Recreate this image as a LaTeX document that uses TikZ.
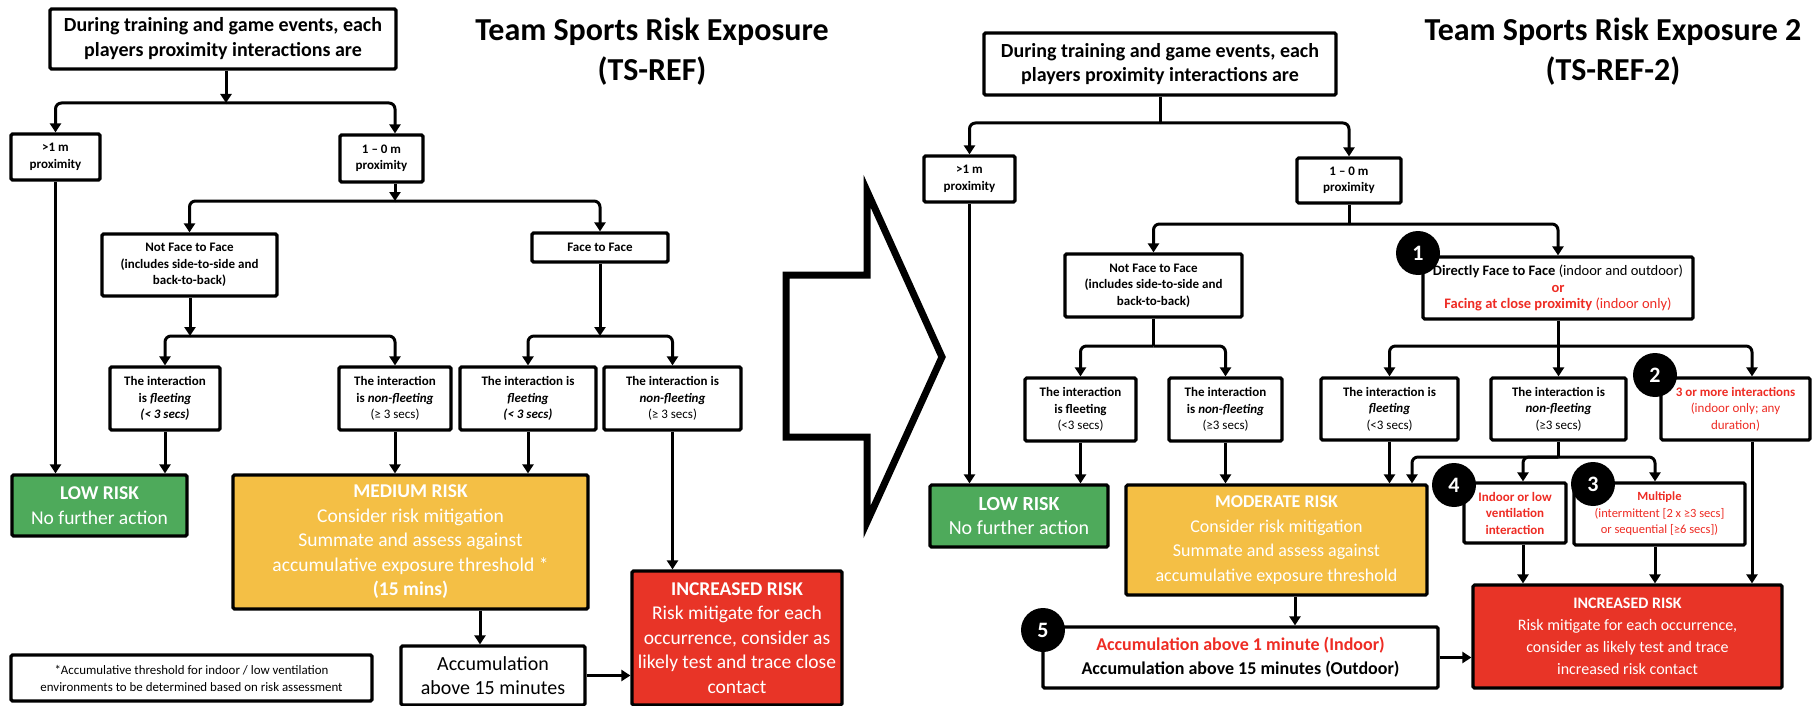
\documentclass[tikz,border=0pt]{standalone}
\usepackage{fontspec}
\setmainfont{Carlito}
\usetikzlibrary{arrows.meta,positioning}

\definecolor{lowgreen}{HTML}{4EAA5B}
\definecolor{medorange}{HTML}{F4BF45}
\definecolor{incred}{HTML}{E83427}
\definecolor{txtred}{HTML}{EE2C24}

\tikzset{
  box/.style={draw, line width=3.2pt, rounded corners=1.5pt, fill=white, align=center,
    inner sep=0pt, font=\bfseries\fontsize{13}{16.5}\selectfont},
  sz/.style 2 args={minimum width=#1pt, minimum height=#2pt},
  riskbox/.style={box, text=white, font=\fontsize{19.5}{24.5}\selectfont},
  arr/.style={line width=3pt, -{Triangle[length=9pt,width=11pt]}},
  lin/.style={line width=3pt},
  rc/.style={rounded corners=6pt},
  num/.style={circle, fill=black, text=white, minimum size=44pt, inner sep=0pt,
    font=\bfseries\fontsize{22}{22}\selectfont},
  title/.style={align=center, font=\bfseries\fontsize{32}{40}\selectfont}
}

\begin{document}
\begin{tikzpicture}[x=1pt,y=-1pt]
\useasboundingbox (0,0) rectangle (1813,706);

% TS-REF
\node[title] (titleL) at (652,52) {Team Sports Risk Exposure\\(TS-REF)};
\node[box,sz={346}{60},font=\bfseries\fontsize{20}{25}\selectfont] (topL) at (223,39)
  {During training and game events, each\\players proximity interactions are};
\node[box,sz={89}{46}] (farL) at (55.5,157) {>1 m\\proximity};
\node[box,sz={83}{47}] (nearL) at (381.5,158.5) {1 -- 0 m\\proximity};
\node[box,sz={175}{62}] (nffL) at (189.5,265) {Not Face to Face\\(includes side-to-side and\\back-to-back)};
\node[box,sz={136}{29}] (ftfL) at (600,247.5) {Face to Face};
\node[box,sz={110}{63}] (fleetA) at (165,398.5) {The interaction\\is \textit{fleeting}\\\textit{(< 3 secs)}};
\node[box,sz={112}{63}] (nonfleetA) at (395,398.5) {The interaction\\is \textit{non-fleeting}\\{\mdseries(≥ 3 secs)}};
\node[box,sz={136}{63}] (fleetB) at (528,398.5) {The interaction is\\\textit{fleeting}\\\textit{(< 3 secs)}};
\node[box,sz={137}{63}] (nonfleetB) at (672.5,398.5) {The interaction is\\\textit{non-fleeting}\\{\mdseries(≥ 3 secs)}};
\node[riskbox,sz={175}{61},fill=lowgreen] (lowL) at (99.5,505.5) {\textbf{LOW RISK}\\No further action};
\node[riskbox,sz={355}{134},fill=medorange] (medL) at (410.5,542)
  {\textbf{MEDIUM RISK}\\Consider risk mitigation\\Summate and assess against\\accumulative exposure threshold *\\\textbf{(15 mins)}};
\node[riskbox,sz={210}{134},fill=incred] (incL) at (737,638)
  {\textbf{INCREASED RISK}\\Risk mitigate for each\\occurrence, consider as\\likely test and trace close\\contact};
\node[box,sz={184}{59},font=\fontsize{20}{24.5}\selectfont] (accL) at (493,675.5) {Accumulation\\above 15 minutes};
\node[box,sz={361}{46},font=\fontsize{12.9}{17}\selectfont] (noteL) at (191.5,678)
  {*Accumulative threshold for indoor / low ventilation\\environments to be determined based on risk assessment};

\coordinate (jL1) at (226,103);
\coordinate (jL2) at (395,201);
\coordinate (jL3) at (190,336);
\coordinate (jL4) at (600,336);
\coordinate (colL) at (480,0);
\draw[arr] (topL.south -| jL1) -- (jL1);
\draw[arr,rc] (jL1) -| (farL.north);
\draw[arr,rc] (jL1) -| (nearL.north -| jL2);
\draw[arr] (nearL.south -| jL2) -- (jL2);
\draw[arr,rc] (jL2) -| (nffL.north);
\draw[arr,rc] (jL2) -| (ftfL.north);
\draw[arr] (nffL.south -| jL3) -- (jL3);
\draw[arr,rc] (jL3) -| (fleetA.north);
\draw[arr,rc] (jL3) -| (nonfleetA.north);
\draw[arr] (ftfL.south) -- (jL4);
\draw[arr,rc] (jL4) -| (fleetB.north);
\draw[arr,rc] (jL4) -| (nonfleetB.north);
\draw[arr] (farL.south) -- (farL.south |- lowL.north);
\draw[arr] (fleetA.south) -- (fleetA.south |- lowL.north);
\draw[arr] (nonfleetA.south) -- (nonfleetA.south |- medL.north);
\draw[arr] (fleetB.south) -- (fleetB.south |- medL.north);
\draw[arr] (nonfleetB.south) -- (nonfleetB.south |- incL.north);
\draw[arr] (medL.south -| colL) -- (accL.north -| colL);
\draw[arr] (accL.east) -- (accL.east -| incL.west);

% big arrow
\draw[line width=7pt, line join=miter] (786,275) -- (867,275) -- (867,191) -- (942,357)
  -- (867,522) -- (867,437) -- (786,437) -- cycle;

% TS-REF-2
\node[title] (titleR) at (1613,52) {Team Sports Risk Exposure 2\\(TS-REF-2)};
\node[box,sz={352}{62},font=\bfseries\fontsize{20}{24}\selectfont] (topR) at (1160,64)
  {During training and game events, each\\players proximity interactions are};
\node[box,sz={91}{46}] (farR) at (969.5,179) {>1 m\\proximity};
\node[box,sz={104}{45}] (nearR) at (1349,180.5) {1 -- 0 m\\proximity};
\node[box,sz={177}{63}] (nffR) at (1153.5,285.5) {Not Face to Face\\(includes side-to-side and\\back-to-back)};
\node[box,sz={270}{62},font=\bfseries\fontsize{14.5}{16.5}\selectfont] (dftf) at (1558,288)
  {Directly Face to Face {\mdseries(indoor and outdoor)}\\\textcolor{txtred}{or}\\\textcolor{txtred}{Facing at close proximity {\mdseries(indoor only)}}};
\node[box,sz={111}{63}] (fleetC) at (1080.5,409.5) {The interaction\\is fleeting\\{\mdseries(<3 secs)}};
\node[box,sz={113}{63}] (nonfleetC) at (1225.5,409.5) {The interaction\\is \textit{non-fleeting}\\{\mdseries(≥3 secs)}};
\node[box,sz={137}{62}] (fleetD) at (1389.5,409) {The interaction is\\\textit{fleeting}\\{\mdseries(<3 secs)}};
\node[box,sz={135}{62}] (nonfleetD) at (1558.5,409) {The interaction is\\\textit{non-fleeting}\\{\mdseries(≥3 secs)}};
\node[box,sz={149}{62},text=txtred] (threeplus) at (1735.5,409)
  {3 or more interactions\\{\mdseries(indoor only; any}\\{\mdseries duration)}};
\node[riskbox,sz={178}{62},fill=lowgreen,font=\fontsize{20}{24.5}\selectfont] (lowR) at (1019,516) {\textbf{LOW RISK}\\No further action};
\node[riskbox,sz={301}{110},fill=medorange,font=\fontsize{18}{24.5}\selectfont] (modR) at (1276.5,540)
  {\textbf{MODERATE RISK}\\Consider risk mitigation\\Summate and assess against\\accumulative exposure threshold};
\node[box,sz={102}{60},text=txtred] (indoor) at (1515,513) {Indoor or low\\ventilation\\interaction};
\node[box,sz={171}{62},text=txtred,font=\bfseries\fontsize{12.5}{16.5}\selectfont] (multi) at (1659.5,514)
  {Multiple\\{\mdseries(intermittent [2 x ≥3 secs]}\\{\mdseries or sequential [≥6 secs])}};
\node[riskbox,sz={309}{103},fill=incred,font=\fontsize{16}{22}\selectfont] (incR) at (1627.5,636.5)
  {\textbf{INCREASED RISK}\\Risk mitigate for each occurrence,\\consider as likely test and trace\\increased risk contact};
\node[box,sz={395}{61},font=\bfseries\fontsize{18}{24}\selectfont] (accR) at (1240.5,657.5)
  {\textcolor{txtred}{Accumulation above 1 minute (Indoor)}\\Accumulation above 15 minutes (Outdoor)};

\coordinate (jR1) at (1160,123);
\coordinate (jR2) at (1349,224);
\coordinate (jR3) at (1153.5,346);
\coordinate (jR4) at (1558.5,346);
\coordinate (jR5) at (1558.5,457);
\coordinate (colA) at (1412,0);
\coordinate (colB) at (1523,0);
\coordinate (colC) at (1655,0);
\coordinate (colD) at (1752,0);
\coordinate (colE) at (1295,0);
\draw[lin] (topR.south) -- (jR1);
\draw[arr,rc] (jR1) -| (farR.north);
\draw[arr,rc] (jR1) -| (nearR.north);
\draw[lin] (nearR.south) -- (jR2);
\draw[arr,rc] (jR2) -| (nffR.north);
\draw[arr,rc] (jR2) -| (dftf.north);
\draw[lin] (nffR.south) -- (jR3);
\draw[arr,rc] (jR3) -| (fleetC.north);
\draw[arr,rc] (jR3) -| (nonfleetC.north);
\draw[arr] (dftf.south -| jR4) -- (nonfleetD.north);
\draw[arr,rc] (jR4) -| (fleetD.north);
\draw[arr,rc] (jR4) -| (threeplus.north -| colD);
\draw[arr] (farR.south) -- (farR.south |- lowR.north);
\draw[arr] (fleetC.south) -- (fleetC.south |- lowR.north);
\draw[arr] (nonfleetC.south) -- (nonfleetC.south |- modR.north);
\draw[arr] (fleetD.south) -- (fleetD.south |- modR.north);
\draw[lin] (nonfleetD.south) -- (jR5);
\draw[arr,rc] (jR5) -| (modR.north -| colA);
\draw[arr,rc] (jR5) -| (indoor.north -| colB);
\draw[arr,rc] (jR5) -| (multi.north -| colC);
\draw[arr] (threeplus.south -| colD) -- (incR.north -| colD);
\draw[arr] (indoor.south -| colB) -- (incR.north -| colB);
\draw[arr] (multi.south -| colC) -- (incR.north -| colC);
\draw[arr] (modR.south -| colE) -- (accR.north -| colE);
\draw[arr] (accR.east) -- (accR.east -| incR.west);

\node[num] (n1) at (1418,253) {1};
\node[num] (n2) at (1655,375) {2};
\node[num] (n3) at (1593,484) {3};
\node[num] (n4) at (1454,485) {4};
\node[num] (n5) at (1043,630) {5};
\end{tikzpicture}
\end{document}
